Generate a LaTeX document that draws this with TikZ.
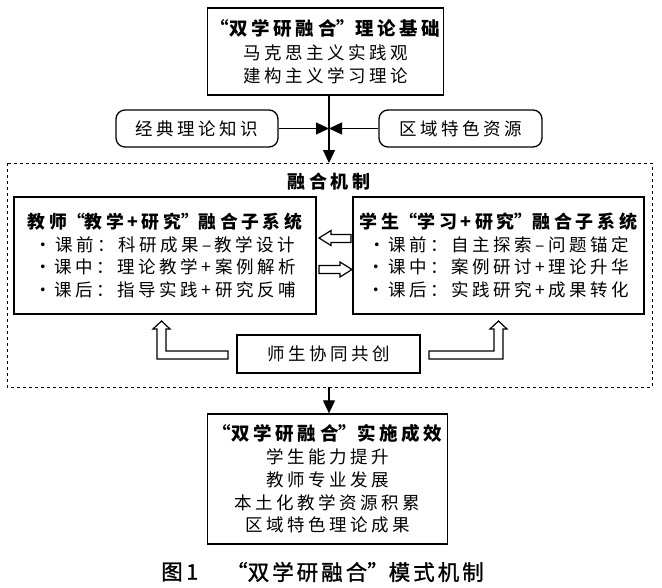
\documentclass[tikz,border=0pt]{standalone}
\usepackage{fontspec}
\setmainfont{Noto Sans CJK SC}
\newfontfamily\cjk[LetterSpace=20]{Noto Sans CJK SC}
\newfontfamily\cjkcap[LetterSpace=14, FakeBold=1.2]{Noto Sans CJK SC}
\usetikzlibrary{arrows.meta}
\newcommand\Lq{{\addfontfeatures{RawFeature=+fwid}“}}
\newcommand\Rq{{\addfontfeatures{RawFeature=+fwid}”}}
\tikzset{
  boxstyle/.style={draw, line width=1.3pt, inner sep=0pt, align=center,
    font=\cjk\fontsize{17.5}{22.7}\selectfont},
  roundbox/.style={boxstyle, rounded corners=9pt},
  hollow/.style={draw, line width=1.2pt, fill=white, line join=miter},
  conn/.style={line width=1.2pt, -{Triangle[length=13pt,width=12pt]}},
  dashbox/.style={draw, line width=0.9pt, dash pattern=on 3pt off 3pt},
  ttl/.style={font=\cjk\bfseries\fontsize{18}{22.7}\selectfont},
  captxt/.style={font=\cjkcap\fontsize{21.5}{24}\selectfont, anchor=west, inner sep=0pt},
}
\begin{document}
\begin{tikzpicture}[x=1pt,y=-1pt]
\useasboundingbox (0,0) rectangle (662,587);
% dashed frame
\draw[dashbox] (7,163) rectangle (652,387);
% top box
\node[boxstyle, minimum width=236pt, minimum height=87pt] (top) at (325.5,51.5)
  {{\bfseries\fontsize{18.5}{24}\selectfont \Lq 双学研融合\Rq 理论基础}\\[1pt]
   马克思主义实践观\\ 建构主义学习理论};
% rounded side boxes
\node[roundbox, minimum width=162pt, minimum height=37pt] (cls) at (197,128.5) {经典理论知识};
\node[roundbox, minimum width=163pt, minimum height=37pt] (reg) at (460.5,128.5) {区域特色资源};
\coordinate (j) at (329,128.5);
\coordinate (ftop) at (329,163);
\coordinate (fbot) at (329,387);
% mechanism title
\node[ttl] (mech) at (329,182) {融合机制};
% subsystem boxes
\node[boxstyle, minimum width=302pt, minimum height=117pt] (tea) at (165,255.5)
  {{\bfseries\fontsize{17.8}{22.7}\selectfont 教师\Lq 教学+研究\Rq 融合子系统}\\
   ·\,课前：科研成果–教学设计\\ ·\,课中：理论教学+案例解析\\ ·\,课后：指导实践+研究反哺};
\node[boxstyle, minimum width=291pt, minimum height=117pt] (stu) at (498.5,255.5)
  {{\bfseries\fontsize{18}{22.7}\selectfont 学生\Lq 学习+研究\Rq 融合子系统}\\
   ·\,课前：自主探索–问题锚定\\ ·\,课中：案例研讨+理论升华\\ ·\,课后：实践研究+成果转化};
% co-creation box
\node[boxstyle, minimum width=183pt, minimum height=38pt] (co) at (328.5,354) {师生协同共创};
% bottom box
\node[boxstyle, minimum width=240pt, minimum height=130pt] (res) at (327.5,479)
  {{\bfseries\fontsize{18.5}{22.5}\selectfont \Lq 双学研融合\Rq 实施成效}\\
   学生能力提升\\ 教师专业发展\\ 本土化教学资源积累\\ 区域特色理论成果};
% caption
\node[captxt] (capA) at (161,572) {图\,1};
\node[captxt] (capB) at (226,572) {\Lq 双学研融合\Rq 模式机制};
% connectors
\draw[line width=1.2pt] (top.south -| j) -- (j);
\draw[conn] (j) -- (ftop);
\draw[conn] (cls.east) -- (j);
\draw[conn] (reg.west) -- (j);
\draw[conn] (fbot) -- (res.north -| fbot);
% hollow arrows between subsystems
\draw[hollow] (319,238) -- (331,230.5) -- (331,234.5) -- (351,234.5) -- (351,242.5) -- (331,242.5) -- (331,245.5) -- cycle;
\draw[hollow] (352,269.5) -- (340,262) -- (340,265.5) -- (319,265.5) -- (319,273.5) -- (340,273.5) -- (340,277) -- cycle;
% hollow elbow arrows
\draw[hollow] (161.5,321) -- (170,329) -- (166,329) -- (166,351) -- (228,351) -- (228,359) -- (157,359) -- (157,329) -- (153,329) -- cycle;
\draw[hollow] (498.5,321) -- (507,329) -- (503,329) -- (503,359) -- (429,359) -- (429,351) -- (494,351) -- (494,329) -- (490,329) -- cycle;
\end{tikzpicture}
\end{document}
